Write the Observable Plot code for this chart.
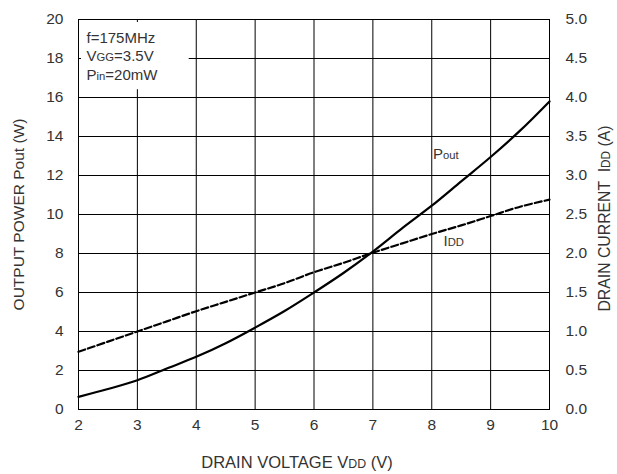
<!DOCTYPE html>
<html><head><meta charset="utf-8">
<script src="https://cdn.jsdelivr.net/npm/d3@7"></script>
<script src="https://cdn.jsdelivr.net/npm/@observablehq/plot@0.6"></script>
<style>body{margin:0;background:#fff}</style>
</head><body><div id="chart"></div>
<script>
// Drain voltage (V)
const vdd  = [2, 2.5, 3, 3.5, 4, 4.5, 5, 5.5, 6, 6.5, 7, 7.5, 8, 8.5, 9, 9.5, 10];
// Output power (W)
const pout = [0.65, 1.05, 1.5, 2.1, 2.7, 3.4, 4.2, 5.05, 6.0, 7.0, 8.1, 9.3, 10.45, 11.7, 12.95, 14.3, 15.8];
// Drain current (A)
const idd  = [0.74, 0.87, 1.0, 1.13, 1.26, 1.38, 1.5, 1.62, 1.76, 1.88, 2.01, 2.13, 2.25, 2.36, 2.48, 2.6, 2.69];

const xTicks = [2, 3, 4, 5, 6, 7, 8, 9, 10];
const yTicks = [0, 2, 4, 6, 8, 10, 12, 14, 16, 18, 20];
const K = 4; // right axis: 1 A corresponds to 4 W on the shared scale

const xTitle = "DRAIN VOLTAGE V{DD} (V)";
const yTitle = "OUTPUT POWER Pout (W)";
const y2Title = "DRAIN CURRENT  I{DD} (A)";
const legendLines = ["f=175MHz", "V{GG}=3.5V", "P{in}=20mW"];
const legendBox = [{x1: 2, x2: 3.88, y1: 16.4, y2: 20}];
const curveLabels = [
  {x: 8.02, y: 13.1, text: "P{out}"},
  {x: 8.2, y: 8.65, text: "I{DD}"}
];

const data = vdd.map((v, i) => ({vdd: v, pout: pout[i], idd: idd[i]}));

const plot = Plot.plot({
  width: 617, height: 474,
  marginLeft: 78, marginRight: 68, marginTop: 19, marginBottom: 65,
  style: {fontFamily: "'Liberation Sans', Arial, sans-serif", fontSize: "15px", color: "#333", background: "#fff"},
  x: {domain: [2, 10]},
  y: {domain: [0, 20]},
  marks: [
    Plot.gridX(xTicks, {stroke: "#000", strokeOpacity: 1}),
    Plot.gridY(yTicks, {stroke: "#000", strokeOpacity: 1}),
    Plot.rect(legendBox, {x1: "x1", x2: "x2", y1: "y1", y2: "y2", fill: "#fff", insetLeft: 3, insetTop: 3}),
    Plot.frame({stroke: "#000"}),
    Plot.axisX(xTicks, {tickSize: 0, tickPadding: 9, fontSize: 15.5, label: null}),
    Plot.axisY(yTicks, {anchor: "left", tickSize: 0, tickPadding: 15, fontSize: 15.5,
      label: yTitle, labelAnchor: "center", labelOffset: 66, labelArrow: "none"}),
    Plot.axisY(yTicks, {anchor: "right", tickSize: 0, tickPadding: 16, fontSize: 15.5,
      tickFormat: d => (d / K).toFixed(1), label: null}),
    Plot.text([xTitle], {frameAnchor: "bottom", dx: -17, dy: 53, textAnchor: "middle", lineAnchor: "middle", fontSize: 16.5, fill: "#333"}),
    Plot.text([y2Title], {frameAnchor: "right", dx: 55, dy: 4, rotate: -90, textAnchor: "middle", lineAnchor: "middle", fontSize: 15.8, fill: "#333"}),
    Plot.line(data, {x: "vdd", y: "pout", stroke: "#000", strokeWidth: 2.2, curve: "catmull-rom"}),
    Plot.line(data, {x: "vdd", y: d => d.idd * K, stroke: "#000", strokeWidth: 2.2, strokeDasharray: "7,3", curve: "catmull-rom"}),
    Plot.text([legendLines.join("\n")], {frameAnchor: "top-left", dx: 8, dy: 10, textAnchor: "start", lineAnchor: "top", lineHeight: 1.24, fontSize: 15, fill: "#333"}),
    Plot.text(curveLabels, {x: "x", y: "y", text: "text", textAnchor: "start", fontSize: 15, fill: "#333"})
  ]
});

// Render "{...}" parts as smaller letters on the baseline
d3.select(plot).selectAll("text, tspan").each(function() {
  const el = this;
  if (el.children.length > 0) return;
  const s = el.textContent;
  if (!s.includes("{")) return;
  el.textContent = "";
  s.split(/(\{[^}]*\})/).forEach(part => {
    if (!part) return;
    const t = document.createElementNS("http://www.w3.org/2000/svg", "tspan");
    if (part.startsWith("{")) {
      t.textContent = part.slice(1, -1);
      t.setAttribute("font-size", "0.75em");
    } else {
      t.textContent = part;
    }
    el.appendChild(t);
  });
});

document.getElementById("chart").appendChild(plot);
</script>
</body></html>
